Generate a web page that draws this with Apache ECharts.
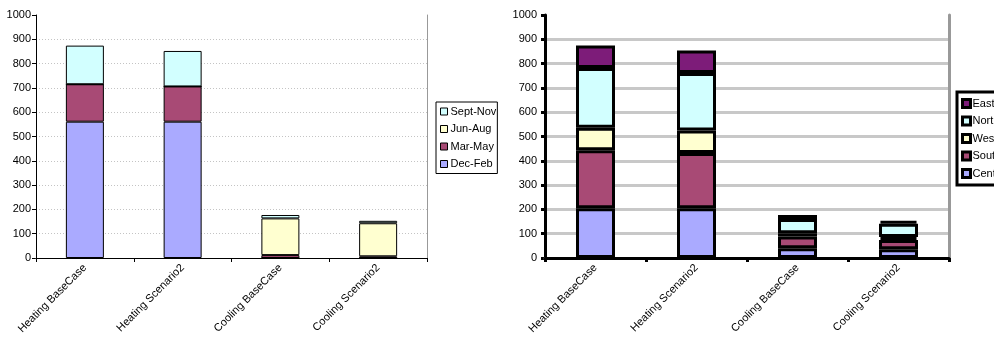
<!DOCTYPE html>
<html>
<head>
<meta charset="utf-8">
<script src="https://cdn.jsdelivr.net/npm/echarts@6/dist/echarts.min.js"></script>
<style>html,body{margin:0;padding:0;background:#fff;}#c{width:994px;height:338px;}</style>
</head>
<body>
<div id="c"></div>
<script>
var categories = ['Heating BaseCase', 'Heating Scenario2', 'Cooling BaseCase', 'Cooling Scenario2'];
var yTicks = { min: 0, max: 1000, interval: 100 };

// Left chart: seasons
var seasonNames = ['Dec-Feb', 'Mar-May', 'Jun-Aug', 'Sept-Nov'];
var decFeb  = [561, 561, 0, 0];
var marMay  = [154, 145, 12, 7];
var junAug  = [0, 0, 151, 136];
var septNov = [159, 146, 14, 10];
var seasonLegendOrder = ['Sept-Nov', 'Jun-Aug', 'Mar-May', 'Dec-Feb'];

// Right chart: regions
var regionNames = ['Central', 'South', 'West', 'North', 'East'];
var central = [205, 205, 40, 36];
var south   = [238, 227, 48, 38];
var west    = [93, 93, 14, 12];
var north   = [246, 236, 58, 55];
var east    = [93, 93, 17, 12];
var regionLegendOrder = ['East', 'North', 'West', 'South', 'Central'];

var colors = {
  'Dec-Feb': '#AAAAFF', 'Mar-May': '#A84A75', 'Jun-Aug': '#FFFFD0', 'Sept-Nov': '#D2FFFF',
  'Central': '#AAAAFF', 'South': '#A84A75', 'West': '#FFFFD0', 'North': '#D2FFFF', 'East': '#7D1C79'
};

var FONT = 'Liberation Sans, Arial, sans-serif';

function catAxis(gi, w) {
  return {
    type: 'category', gridIndex: gi, data: categories, position: 'bottom',
    axisLine: { show: true, lineStyle: { color: '#000', width: w } },
    axisTick: { show: true, alignWithLabel: false, length: 4, lineStyle: { color: '#000', width: w } },
    axisLabel: { interval: 0, rotate: 45, margin: 8, color: '#000', fontFamily: FONT, fontSize: 11 },
    splitLine: { show: false }, z: 5
  };
}
function valAxis(gi, w, split) {
  return {
    type: 'value', gridIndex: gi, min: yTicks.min, max: yTicks.max, interval: yTicks.interval, position: 'left',
    axisLine: { show: true, lineStyle: { color: '#000', width: w } },
    axisTick: { show: true, length: 4, lineStyle: { color: '#000', width: w } },
    axisLabel: { margin: gi === 0 ? 5 : 8, color: '#000', fontFamily: FONT, fontSize: 11,
      formatter: function (v) { return String(v); } },
    splitLine: split, z: 1
  };
}
function borderX(gi, w) {
  return { type: 'value', gridIndex: gi, position: 'top', min: 0, max: 1,
    axisLine: { show: true, lineStyle: { color: '#999', width: w } },
    axisTick: { show: false }, axisLabel: { show: false }, splitLine: { show: false }, z: 4 };
}
function borderY(gi, w) {
  return { type: 'value', gridIndex: gi, position: 'right', min: 0, max: 1,
    axisLine: { show: true, lineStyle: { color: '#999', width: w } },
    axisTick: { show: false }, axisLabel: { show: false }, splitLine: { show: false }, z: 4 };
}

function bar(name, data, gi, stack, bw, barW) {
  return {
    type: 'bar', name: name, data: data, stack: stack, xAxisIndex: gi * 2, yAxisIndex: gi * 2,
    barWidth: barW,
    itemStyle: { color: colors[name], borderColor: '#000', borderWidth: bw },
    emphasis: { disabled: true }, animation: false, z: 3
  };
}

var series = [];
[decFeb, marMay, junAug, septNov].forEach(function (d, i) { series.push(bar(seasonNames[i], d, 0, 's', 1, 38)); });
[central, south, west, north, east].forEach(function (d, i) { series.push(bar(regionNames[i], d, 1, 'r', 3, 39)); });

var chart = echarts.init(document.getElementById('c'), null, { renderer: 'canvas' });
chart.setOption({
  backgroundColor: '#fff',
  animation: false,
  textStyle: { fontFamily: FONT },
  grid: [
    { left: 36, top: 15, width: 391, height: 243, containLabel: false },
    { left: 545, top: 15, width: 404, height: 243, containLabel: false }
  ],
  xAxis: [catAxis(0, 1), borderX(0, 1), catAxis(1, 3), borderX(1, 3)],
  yAxis: [
    valAxis(0, 1, { show: true, showMaxLine: false, showMinLine: false, lineStyle: { color: '#c4c4c4', type: [1, 2], width: 1 } }),
    borderY(0, 1),
    valAxis(1, 3, { show: true, showMaxLine: false, showMinLine: false, lineStyle: { color: '#c8c8c8', width: 3 } }),
    borderY(1, 3)
  ],
  legend: [
    {
      data: seasonLegendOrder, orient: 'vertical', left: 436, top: 102,
      itemWidth: 7, itemHeight: 7, itemGap: 6.5, padding: [4, 1, 4, 4],
      borderColor: '#000', borderWidth: 1, icon: 'rect',
      itemStyle: { borderColor: '#000', borderWidth: 1 },
      textStyle: { fontFamily: FONT, fontSize: 11, color: '#000', padding: [0, 0, 0, -2] },
      selectedMode: false
    },
    {
      data: regionLegendOrder, orient: 'vertical', left: 957, top: 92,
      itemWidth: 8, itemHeight: 8, itemGap: 6.5, padding: [6, 3, 6, 4],
      borderColor: '#000', borderWidth: 3, icon: 'rect',
      itemStyle: { borderColor: '#000', borderWidth: 3 },
      textStyle: { fontFamily: FONT, fontSize: 11, color: '#000', padding: [0, 0, 0, -3] },
      selectedMode: false
    }
  ],
  series: series
});
</script>
</body>
</html>
